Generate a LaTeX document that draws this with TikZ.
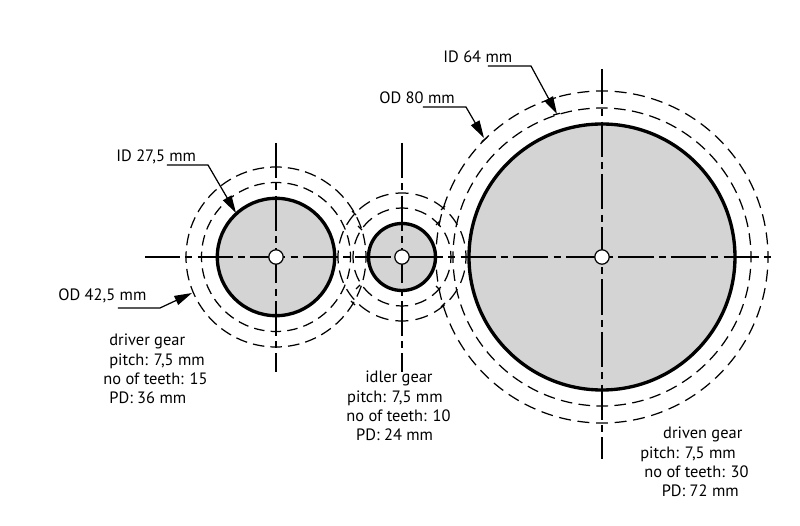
\documentclass[tikz,border=0pt]{standalone}
\usepackage{fontspec}
\setmainfont{PT Sans}
\usetikzlibrary{arrows.meta}

\begin{document}
\begin{tikzpicture}[scale=0.2]
\tikzstyle{every node}+=[inner sep=0pt, font=\fontsize{9.35}{10.9}\selectfont]
\tikzstyle{gearbody}=[black, line width=1.9pt, fill=black!17]
\tikzset{gearcircle/.style 2 args={black, line width=0.7pt, dash pattern=on #1 off #2, dash phase=0.5*#1}}
\tikzstyle{centerline}=[black, line width=0.7pt, dash pattern=on 20pt off 3pt on 4pt off 2.93pt]
\tikzstyle{leader}=[black, line width=0.7pt, -{Triangle[length=10pt,width=5.5pt]}]
\tikzstyle{gearmark}=[black, line width=0.7pt]
\useasboundingbox (0,0) rectangle (80,-52.6);
% gear centres
\coordinate (driver) at (27.6,-25.7);
\coordinate (idler) at (40.2,-25.7);
\coordinate (driven) at (60.2,-25.7);
% bodies
\draw [gearbody] (driver) circle (5.87);
\draw [gearbody] (idler) circle (3.35);
\draw [gearbody] (driven) circle (13.3);
% dashed ID and OD
\draw [gearcircle={6pt}{3.51pt}] (driver) circle (7.45);
\draw [gearcircle={6.6pt}{3.46pt}] (driver) circle (9);
\draw [gearcircle={7pt}{3.95pt}] (idler) circle (4.9);
\draw [gearcircle={7.4pt}{4.04pt}] (idler) circle (6.4);
\draw [gearcircle={6.6pt}{3.65pt}] (driven) circle (14.9);
\draw [gearcircle={6.8pt}{3.8pt}] (driven) circle (16.6);
% centre lines
\coordinate (axisleft) at (14.5,-25.7);
\coordinate (axisright) at (77.3,-25.7);
\coordinate (drivertop) at (27.6,-14.3);
\coordinate (driverbottom) at (27.6,-37.2);
\coordinate (idlertop) at (40.2,-14.3);
\coordinate (idlerbottom) at (40.2,-37.2);
\coordinate (driventop) at (60.2,-6.9);
\coordinate (drivenbottom) at (60.2,-45.9);
\draw [centerline] (axisleft) -- (axisright);
\draw [centerline] (drivertop) -- (driverbottom);
\draw [centerline] (idlertop) -- (idlerbottom);
\draw [centerline] (driventop) -- (drivenbottom);
% hubs
\draw [black, line width=0.7pt, fill=white] (driver) circle (0.72);
\draw [black, line width=0.7pt, fill=white] (idler) circle (0.72);
\draw [black, line width=0.7pt, fill=white] (driven) circle (0.72);
% marks on the circles
\draw [gearmark] (48.17,-14.17) -- (48.73,-13.73);
\draw [gearmark] (55.33,-11.5) -- (56,-11.33);
\draw [gearmark] (55,-9.93) -- (55.6,-9.77);
\draw [gearmark] (35.2,-21.1) -- (35.6,-21.5);
\draw [gearmark] (44.1,-21) -- (44.5,-20.6);
\draw [gearmark] (43.6,-22.5) -- (44,-22.1);
\draw [gearmark] (35.8,-22.6) -- (36.2,-23);
\draw [gearmark] (35.1,-30.1) -- (35.5,-30.5);
\draw [gearmark] (44.1,-30.7) -- (44.5,-30.3);
\draw [gearmark] (43.6,-28.6) -- (44,-29);
\draw [gearmark] (35.6,-28.9) -- (36,-28.5);
% dimension labels
\node (idsmall) at (11.6,-15.7) [anchor=west] {ID 27,5 mm};
\node (odsmall) at (5.8,-29.6) [anchor=west] {OD 42,5 mm};
\node (odlarge) at (37.9,-9.8) [anchor=west] {OD 80 mm};
\node (idlarge) at (44.3,-5.7) [anchor=west] {ID 64 mm};
\coordinate (idsmallstart) at (16.7,-16.5);
\coordinate (idsmallknee) at (20.8,-16.5);
\coordinate (idsmalltip) at (23.6,-21.3);
\coordinate (odsmallstart) at (11.8,-30.8);
\coordinate (odsmallknee) at (16,-30.8);
\coordinate (odsmalltip) at (19.2,-29.3);
\coordinate (odlargestart) at (42.3,-10.7);
\coordinate (odlargeknee) at (46.6,-10.7);
\coordinate (odlargetip) at (48.4,-13.8);
\coordinate (idlargestart) at (48.8,-6.6);
\coordinate (idlargeknee) at (53.1,-6.6);
\coordinate (idlargetip) at (55.7,-11.4);
\draw [leader] (idsmallstart) -- (idsmallknee) -- (idsmalltip);
\draw [leader] (odsmallstart) -- (odsmallknee) -- (odsmalltip);
\draw [leader] (odlargestart) -- (odlargeknee) -- (odlargetip);
\draw [leader] (idlargestart) -- (idlargeknee) -- (idlargetip);
% gear data
\node (driverdata) at (10.3,-33.4) [anchor=north west, align=left] {\hspace{3.4pt}driver gear\\\hspace{3.4pt}pitch: 7,5 mm\\no of teeth: 15\\\hspace{3.4pt}PD: 36 mm};
\node (idlerdata) at (34.6,-37.1) [anchor=north west, align=left] {\hspace{10.8pt}idler gear\\\hspace{0.5pt}pitch: 7,5 mm\\no of teeth: 10\\\hspace{5.6pt}PD: 24 mm};
\node (drivendata) at (64,-42.7) [anchor=north west, align=left] {\hspace{13pt}driven gear\\pitch: 7,5 mm\\\hspace{2.3pt}no of teeth: 30\\\hspace{12.2pt}PD: 72 mm};
\end{tikzpicture}
\end{document}
